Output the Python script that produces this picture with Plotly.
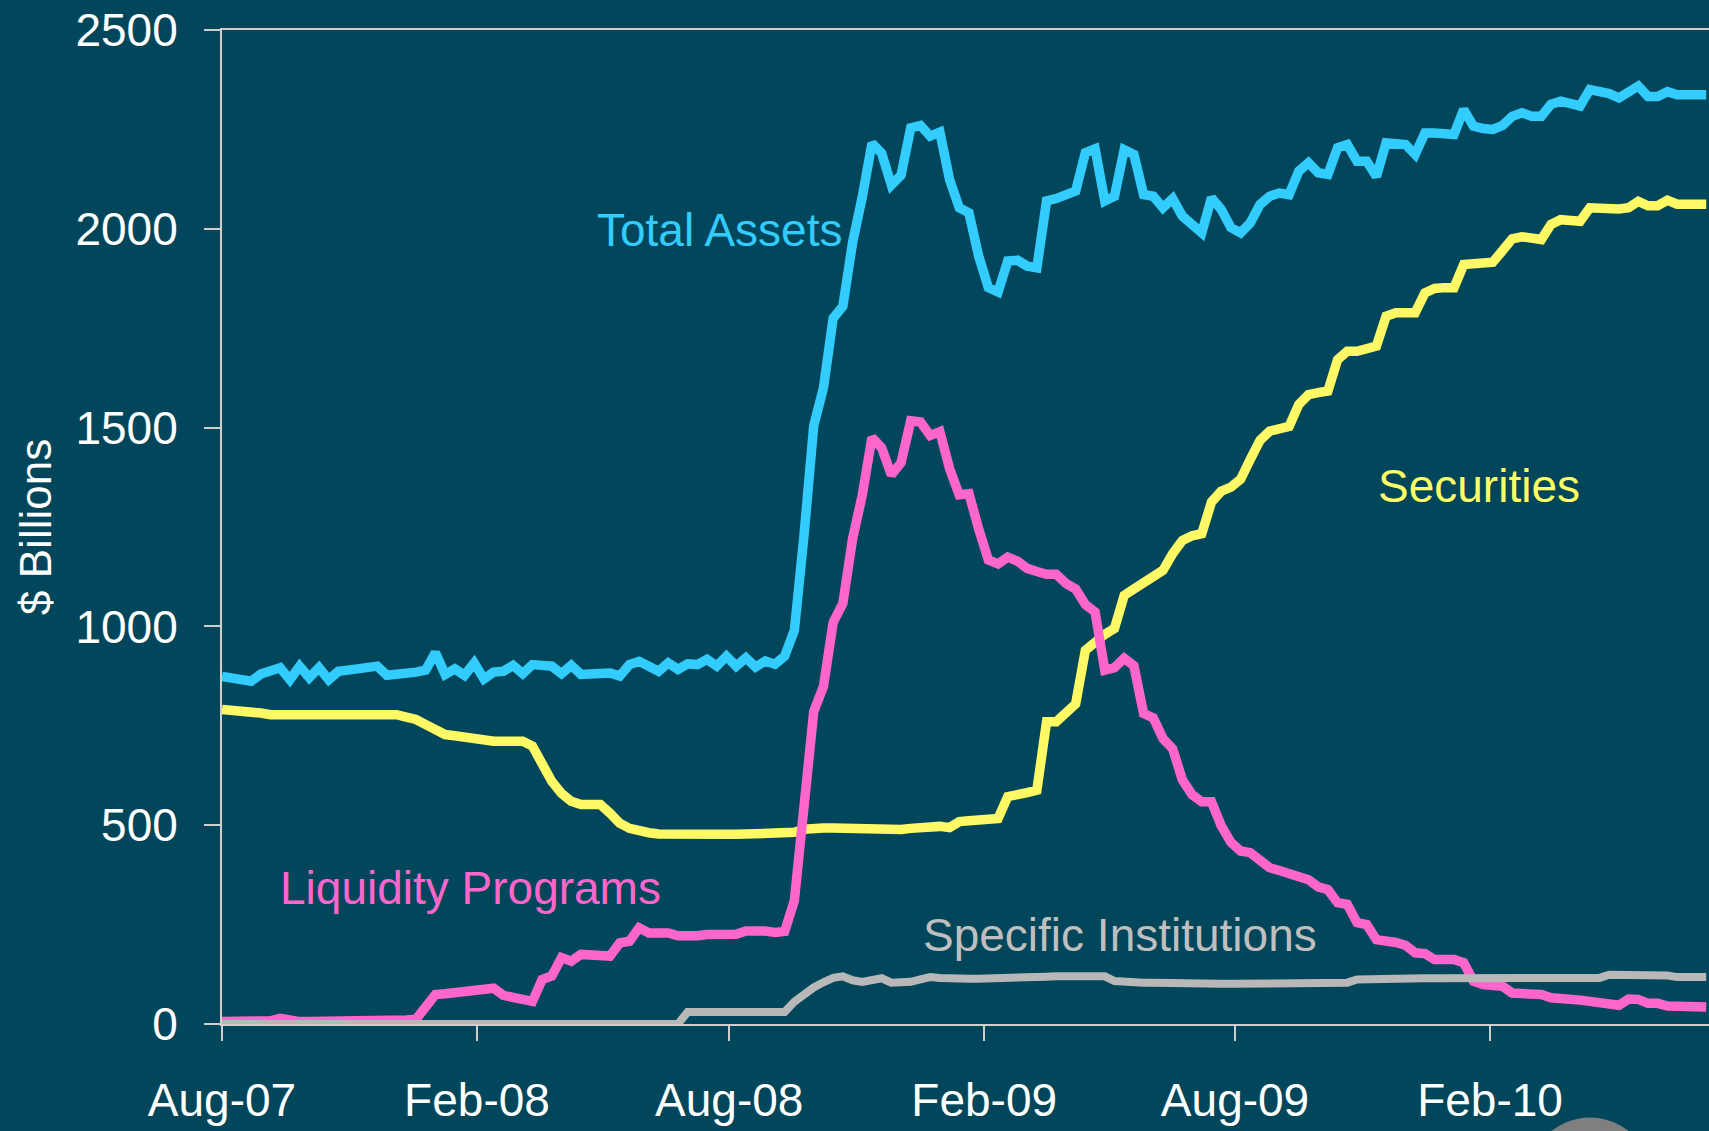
import pandas as pd
import plotly.graph_objects as go

# ---------------- data (weekly, starting Aug 1 2007) ----------------
week_start = "2007-08-01"
n_weeks = 154

total_assets = [
    874, 870, 868, 862, 880, 887, 896, 866, 900, 871,
    896, 866, 887, 890, 893, 896, 900, 877, 878, 879,
    885, 890, 934, 879, 893, 877, 908, 868, 885, 887,
    902, 881, 904, 902, 900, 881, 902, 879, 881, 882,
    883, 875, 904, 912, 900, 887, 908, 892, 906, 904,
    917, 900, 925, 900, 921, 898, 913, 905, 925, 990,
    1230, 1505, 1600, 1775, 1805, 1965, 2080, 2215, 2190, 2110,
    2135, 2254, 2260, 2233, 2243, 2124, 2053, 2040, 1931, 1852,
    1841, 1919, 1921, 1906, 1902, 2070, 2076, 2084, 2095, 2191,
    2201, 2070, 2082, 2199, 2187, 2086, 2082, 2053, 2076, 2032,
    2007, 1990, 2078, 2049, 2003, 1990, 2015, 2061, 2082, 2090,
    2086, 2145, 2166, 2141, 2137, 2204, 2212, 2170, 2170, 2132,
    2216, 2216, 2212, 2187, 2241, 2241, 2240, 2237, 2300, 2258,
    2252, 2250, 2260, 2283, 2292, 2283, 2283, 2313, 2321, 2313,
    2309, 2350, 2347, 2340, 2329, 2342, 2359, 2333, 2333, 2345,
    2337, 2337, 2337, 2337,
]

securities = [
    791, 790, 789, 787, 782, 778, 778, 778, 778, 778,
    778, 778, 778, 778, 778, 778, 778, 778, 778, 772,
    766, 753, 740, 728, 725, 720, 715, 711, 711, 711,
    711, 711, 699, 650, 610, 580, 560, 552, 552, 552,
    530, 505, 492, 485, 481, 478, 477, 477, 477, 477,
    477, 477, 477, 477, 477, 477, 478, 478, 479, 482,
    490, 494, 493, 493, 492, 492, 491, 491, 490, 489,
    489, 492, 495, 499, 497, 494, 509, 511, 513, 515,
    517, 572, 580, 582, 588, 760, 760, 785, 805, 940,
    964, 980, 995, 1078, 1094, 1110, 1120, 1141, 1183, 1216,
    1228, 1233, 1313, 1340, 1350, 1370, 1420, 1468, 1491, 1500,
    1503, 1558, 1583, 1588, 1592, 1671, 1692, 1692, 1698, 1705,
    1780, 1789, 1789, 1789, 1839, 1850, 1852, 1852, 1910, 1912,
    1914, 1916, 1945, 1975, 1980, 1979, 1973, 2011, 2023, 2021,
    2019, 2053, 2050, 2048, 2050, 2053, 2069, 2058, 2058, 2072,
    2062, 2062, 2062, 2062,
]

liquidity_programs = [
    6, 6, 6, 6, 6, 8, 14, 8, 6, 6,
    6, 6, 6, 6, 6, 6, 6, 6, 8, 10,
    12, 45, 74, 76, 80, 84, 88, 91, 90, 72,
    68, 60, 57, 112, 121, 167, 158, 175, 173, 172,
    171, 204, 208, 242, 229, 229, 229, 222, 221, 222,
    225, 225, 226, 226, 234, 236, 234, 230, 233, 310,
    575, 786, 849, 1010, 1058, 1220, 1330, 1475, 1449, 1381,
    1412, 1517, 1514, 1480, 1490, 1397, 1331, 1334, 1245, 1167,
    1157, 1174, 1164, 1146, 1138, 1131, 1131, 1108, 1094, 1055,
    1036, 890, 896, 920, 901, 781, 770, 718, 692, 614,
    577, 559, 559, 499, 457, 435, 431, 410, 393, 386,
    380, 368, 363, 345, 338, 305, 301, 255, 250, 212,
    211, 205, 198, 179, 177, 162, 162, 162, 154, 108,
    99, 99, 95, 78, 77, 76, 74, 66, 62, 62,
    60, 57, 52, 49, 47, 63, 62, 52, 52, 45,
    43, 43, 43, 43,
]

specific_institutions = [
    0, 0, 0, 0, 0, 0, 0, 0, 0, 0,
    0, 0, 0, 0, 0, 0, 0, 0, 0, 0,
    0, 0, 0, 0, 0, 0, 0, 0, 0, 0,
    0, 0, 0, 0, 0, 0, 0, 0, 0, 0,
    0, 0, 0, 0, 0, 0, 0, 0, 30, 30,
    30, 30, 30, 30, 30, 30, 30, 30, 30, 56,
    75, 92, 105, 116, 120, 110, 106, 110, 115, 104,
    104, 106, 112, 118, 116, 114, 114, 114, 114, 114,
    115, 115, 116, 117, 118, 119, 120, 121, 121, 121,
    121, 120, 108, 105, 104, 104, 104, 103, 103, 103,
    103, 102, 102, 101, 101, 101, 101, 101, 100, 100,
    100, 100, 100, 100, 100, 102, 104, 112, 113, 114,
    114, 114, 115, 115, 115, 115, 115, 115, 116, 116,
    116, 116, 116, 116, 116, 116, 116, 116, 116, 116,
    116, 116, 116, 124, 124, 123, 123, 122, 122, 122,
    118, 118, 118, 118,
]

tick_dates = ["2007-08-01", "2008-02-01", "2008-08-01", "2009-02-01", "2009-08-01", "2010-02-01"]
tick_labels = ["Aug-07", "Feb-08", "Aug-08", "Feb-09", "Aug-09", "Feb-10"]
y_ticks = [0, 500, 1000, 1500, 2000, 2500]

weeks = pd.date_range(week_start, periods=n_weeks, freq="7D")

# ---------------- style ----------------
BG = "#01465A"
AXIS = "#CFCFCF"
C_TOTAL = "#33CCFF"
C_SEC = "#FFF966"
C_LIQ = "#FF66CC"
C_SPEC = "#B8B8B8"
FONT = "Liberation Sans, Arial, sans-serif"

fig = go.Figure()
series = [
    ("Total Assets", total_assets, C_TOTAL, 9.5),
    ("Securities", securities, C_SEC, 9.5),
    ("Liquidity Programs", liquidity_programs, C_LIQ, 9.5),
    ("Specific Institutions", specific_institutions, C_SPEC, 8),
]
for name, vals, color, w in series:
    fig.add_trace(go.Scatter(
        x=weeks, y=vals, mode="lines", name=name,
        line=dict(color=color, width=w, shape="linear"),
        showlegend=False, hoverinfo="skip",
    ))

labels = [
    ("Total Assets", "2008-07-25", 1996, "#33CCFF"),
    ("Liquidity Programs", "2008-01-27", 343, "#FF66CC"),
    ("Specific Institutions", "2009-05-10", 225, "#BFBFBF"),
    ("Securities", "2010-01-24", 1352, "#FFFF66"),
]
for text, xd, yv, col in labels:
    fig.add_annotation(x=xd, y=yv, xref="x", yref="y", text=text, showarrow=False,
                       xanchor="center", yanchor="middle",
                       font=dict(family=FONT, size=46, color=col))

# rotated axis title
fig.add_annotation(x=-0.1258, y=0.5, xref="paper", yref="paper", text="$ Billions",
                   textangle=-90, showarrow=False, xanchor="center", yanchor="middle",
                   font=dict(family=FONT, size=44, color="white"))

# partial grey circle at the bottom right (slide decoration)
fig.add_shape(type="circle", xref="paper", yref="paper",
              x0=0.8783, x1=0.9617, y0=-0.2188, y1=-0.0941,
              fillcolor="#7F7F7F", line=dict(width=0), layer="above")

fig.update_layout(
    width=1709, height=1131,
    margin=dict(l=222, r=0, t=30, b=107, autoexpand=False),
    paper_bgcolor=BG, plot_bgcolor=BG,
    font=dict(family=FONT, color="white", size=46),
    showlegend=False,
)
fig.update_xaxes(
    type="date", range=["2007-08-01", "2010-07-09"],
    tickmode="array", tickvals=tick_dates, ticktext=tick_labels,
    showline=True, linecolor=AXIS, linewidth=2, mirror=True,
    ticks="outside", ticklen=15, tickwidth=2, tickcolor=AXIS,
    showgrid=False, zeroline=False, layer="below traces",
    tickfont=dict(family=FONT, size=46, color="white"),
    ticklabelstandoff=20,
)
fig.update_yaxes(
    range=[0, 2500], tickmode="array", tickvals=y_ticks,
    showline=True, linecolor=AXIS, linewidth=2,
    ticks="outside", ticklen=16, tickwidth=2, tickcolor=AXIS,
    showgrid=False, zeroline=False, layer="below traces",
    tickfont=dict(family=FONT, size=46, color="white"),
    ticklabelstandoff=17,
)

fig.write_html(
    "out.html",
    config={"displayModeBar": False},
    post_script="document.body.style.margin='0';document.body.style.padding='0';"
                "document.body.style.background='" + BG + "';",
)
